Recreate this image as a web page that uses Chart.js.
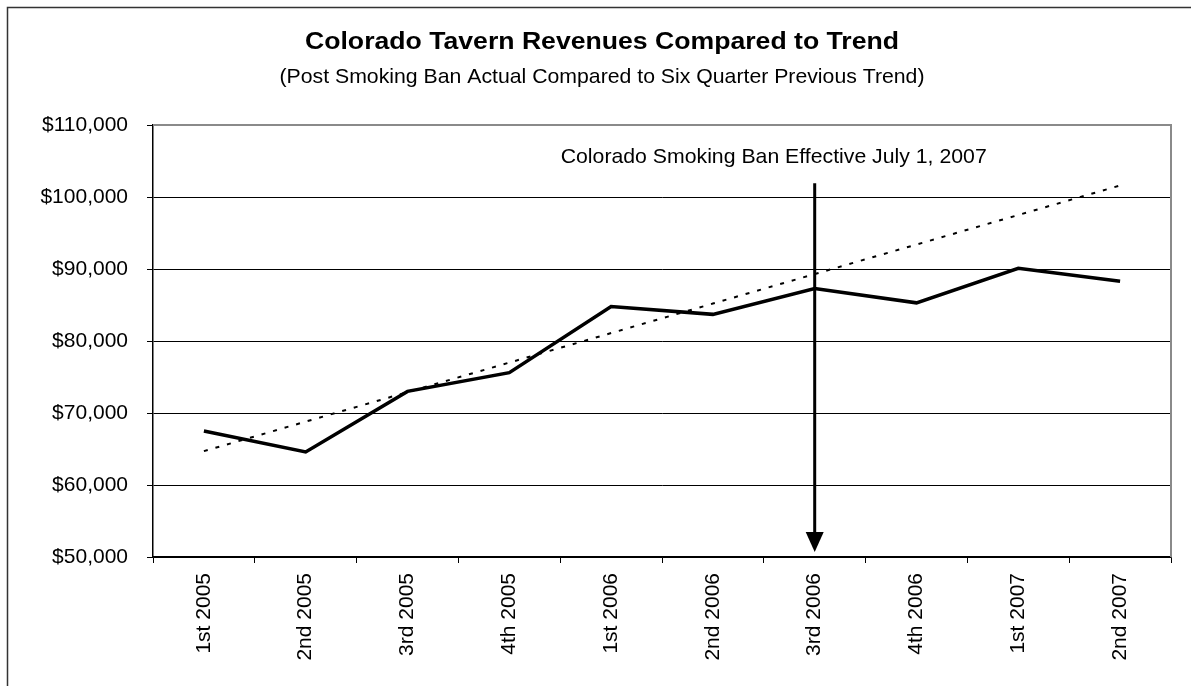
<!DOCTYPE html>
<html>
<head>
<meta charset="utf-8">
<script src="https://cdn.jsdelivr.net/npm/chart.js@4/dist/chart.umd.min.js"></script>
<style>
  html, body { margin: 0; padding: 0; background: #fff; }
  #wrap { width: 1191px; height: 686px; position: relative; overflow: hidden; }
</style>
</head>
<body>
<div id="wrap"><canvas id="lineChart" width="1191" height="686"></canvas></div>
<script>
// values
const quarters = ['1st 2005', '2nd 2005', '3rd 2005', '4th 2005', '1st 2006',
                  '2nd 2006', '3rd 2006', '4th 2006', '1st 2007', '2nd 2007'];
const actualRevenue = [67500, 64600, 73000, 75600, 84800, 83700, 87300, 85300, 90100, 88300];
const trendRevenue = [64700, 68800, 72900, 77000, 81100, 85200, 89300, 93400, 97500, 101600];
const yMin = 50000;
const yMax = 110000;
const yStep = 10000;

const chartTitle = 'Colorado Tavern Revenues Compared to Trend';
const chartSubtitle = '(Post Smoking Ban Actual Compared to Six Quarter Previous Trend)';
const banLabel = 'Colorado Smoking Ban Effective July 1, 2007';
const banQuarter = '3rd 2006';
const arrowFrom = 101900;
const arrowTo = 50700;

const FONT = '"Liberation Sans", Arial, sans-serif';

// draw centred text squeezed/stretched to a given width
function fitText(ctx, text, font, cx, baseline, width) {
    ctx.save();
    ctx.font = font;
    ctx.fillStyle = '#000';
    ctx.textAlign = 'center';
    ctx.textBaseline = 'alphabetic';
    const w = ctx.measureText(text).width;
    ctx.translate(cx, baseline);
    ctx.scale(width / w, 1);
    ctx.fillText(text, 0, 0);
    ctx.restore();
}

const decorations = {
    id: 'decorations',
    afterDraw(chart) {
        const ctx = chart.ctx;
        const area = chart.chartArea;
        const xs = chart.scales.x;
        const ys = chart.scales.y;
        ctx.save();

        // outer frame (left and top edges only are inside the picture)
        ctx.strokeStyle = '#333';
        ctx.lineWidth = 1.5;
        ctx.beginPath();
        ctx.moveTo(7.5, 686);
        ctx.lineTo(7.5, 7.5);
        ctx.lineTo(1191, 7.5);
        ctx.stroke();

        // grey plot frame top / right
        ctx.strokeStyle = '#8a8a8a';
        ctx.lineWidth = 2;
        ctx.beginPath();
        ctx.moveTo(area.left, area.top);
        ctx.lineTo(area.right, area.top);
        ctx.lineTo(area.right, area.bottom);
        ctx.stroke();

        // titles
        fitText(ctx, chartTitle, 'bold 23px ' + FONT, 602, 49, 594);
        fitText(ctx, chartSubtitle, '21px ' + FONT, 602, 83, 645);

        // smoking ban arrow
        const ax = xs.getPixelForValue(quarters.indexOf(banQuarter));
        const top = ys.getPixelForValue(arrowFrom);
        const tip = ys.getPixelForValue(arrowTo);
        ctx.strokeStyle = '#000';
        ctx.lineWidth = 3;
        ctx.beginPath();
        ctx.moveTo(ax, top);
        ctx.lineTo(ax, tip - 18);
        ctx.stroke();
        ctx.fillStyle = '#000';
        ctx.beginPath();
        ctx.moveTo(ax - 9, tip - 20);
        ctx.lineTo(ax + 9, tip - 20);
        ctx.lineTo(ax, tip);
        ctx.closePath();
        ctx.fill();

        fitText(ctx, banLabel, '21px ' + FONT, ax - 41, ys.getPixelForValue(104750), 426);
        ctx.restore();
    }
};

const chart = document.getElementById('lineChart');
let lineChart = new Chart(chart, {
    type: 'line',
    data: {
        labels: quarters,
        datasets: [{
            label: 'Actual',
            data: actualRevenue,
            borderColor: '#000',
            borderWidth: 3.5,
            pointRadius: 0,
            tension: 0,
            fill: false,
        }, {
            label: 'Trend',
            data: trendRevenue,
            borderColor: '#000',
            borderWidth: 2,
            borderDash: [4, 8],
            pointRadius: 0,
            tension: 0,
            fill: false,
        }]
    },
    options: {
        responsive: false,
        animation: false,
        devicePixelRatio: 1,
        layout: { padding: { top: 125, right: 20, bottom: 0, left: 0 } },
        plugins: {
            legend: { display: false },
            tooltip: { enabled: false },
        },
        scales: {
            x: {
                offset: true,
                afterFit: (scale) => { scale.height = 129; },
                grid: {
                    offset: true,
                    drawOnChartArea: false,
                    drawTicks: true,
                    tickLength: 6,
                    color: '#000',
                },
                border: { color: '#000', width: 1.5 },
                ticks: {
                    autoSkip: false,
                    minRotation: 90,
                    maxRotation: 90,
                    padding: 10,
                    color: '#000',
                    font: { family: FONT, size: 21 },
                },
            },
            y: {
                min: yMin,
                max: yMax,
                afterFit: (scale) => { scale.width = 153; },
                grid: {
                    color: '#000',
                    lineWidth: 1,
                    drawTicks: true,
                    tickLength: 6,
                },
                border: { color: '#000', width: 1.5 },
                ticks: {
                    stepSize: yStep,
                    padding: 19,
                    color: '#000',
                    font: { family: FONT, size: 21 },
                    callback: (v) => '$' + v.toLocaleString('en-US'),
                },
            },
        },
    },
    plugins: [decorations],
});
</script>
</body>
</html>
